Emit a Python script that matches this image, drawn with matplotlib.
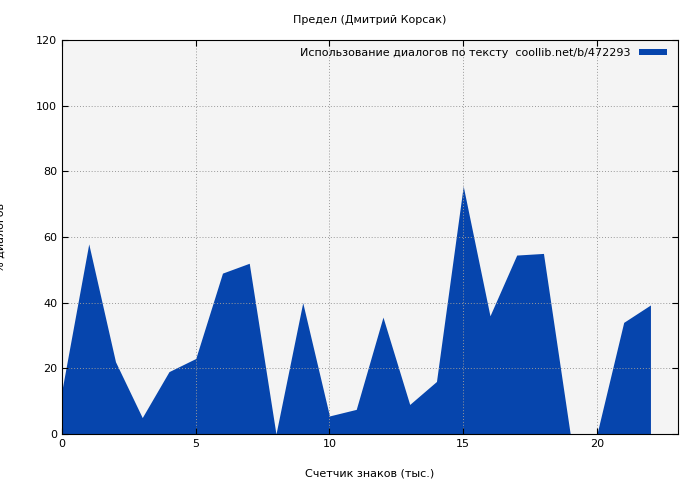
import matplotlib
matplotlib.use("Agg")
import matplotlib.pyplot as plt

# data
chars_k = list(range(23))
dialog_pct = [13.4, 57.9, 22, 5, 19, 23, 49, 52, 0, 40, 5.5, 7.5, 35.6, 9, 16,
              75.5, 36, 54.5, 55, 0, 0, 34, 39.3]
series_label = "Использование диалогов по тексту  coollib.net/b/472293"

fig = plt.figure(figsize=(7, 4.8), dpi=100)
ax = fig.add_axes([62/700, 46/480, 616/700, 394/480])
ax.set_facecolor("#f4f4f4")
ax.fill_between(chars_k, dialog_pct, 0, color="#0645ad", lw=0, label=series_label)
ax.set_xlim(0, 23.03)
ax.set_ylim(0, 120)
ax.set_xticks([0, 5, 10, 15, 20])
ax.set_yticks(range(0, 121, 20))
ax.grid(True, color="#999999", linestyle=(0, (1, 2)), linewidth=0.7)
ax.tick_params(labelsize=8, direction="in", length=4)
ax.tick_params(axis="x", top=True)
ax.tick_params(axis="y", right=True)
ax.set_xlabel("Счетчик знаков (тыс.)", fontsize=8, labelpad=14)
ax.set_ylabel("% диалогов", fontsize=8, labelpad=22)
ax.set_title("Предел (Дмитрий Корсак)", fontsize=8, pad=12)
ax.legend(loc="upper right", fontsize=8, frameon=False, markerfirst=False,
          handlelength=2.5, handleheight=0.5, borderaxespad=0.3,
          bbox_to_anchor=(0.995, 1.0))
fig.savefig("out.png")
